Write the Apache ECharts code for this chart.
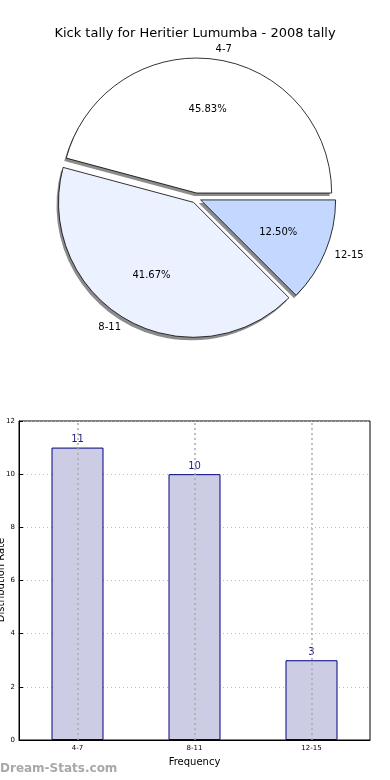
<!DOCTYPE html>
<html><head><meta charset="utf-8">
<style>html,body{margin:0;padding:0;background:#fff}#c{width:390px;height:780px}</style>
<script src="https://cdn.jsdelivr.net/npm/echarts@6/dist/echarts.min.js"></script>
</head><body><div id="c"></div>
<script>
const titleText = 'Kick tally for Heritier Lumumba - 2008 tally';
const categories = ['4-7', '8-11', '12-15'];
const counts = [11, 10, 3];
const pieColors = ['#ffffff', '#ebf1fe', '#c4d8ff'];
const yTicks = [0, 2, 4, 6, 8, 10, 12];
const xAxisName = 'Frequency';
const yAxisName = 'Distribution Rate';
const watermark = 'Dream-Stats.com';

const FONT = 'DejaVu Sans';
const total = counts.reduce((a, b) => a + b, 0);
const CX = 196, CY = 198, R = 135;

const chart = echarts.init(document.getElementById('c'), null, {renderer: 'canvas'});
const pieData = categories.map((c, i) => ({name: c, value: counts[i], selected: true, itemStyle: {color: pieColors[i]}}));
const plainData = categories.map((c, i) => ({name: c, value: counts[i], selected: true}));

const pieCommon = {type: 'pie', startAngle: 0, clockwise: false, selectedMode: 'multiple', selectedOffset: 5,
  silent: true, avoidLabelOverlap: false, emphasis: {disabled: true}, labelLine: {show: false}};

chart.setOption({
  animation: false,
  textStyle: {fontFamily: FONT},
  title: {text: titleText, left: 'center', top: 22, textStyle: {fontFamily: FONT, fontSize: 13, fontWeight: 'normal', color: '#000'}},
  graphic: [
    {type: 'text', left: 0, top: 763, style: {text: watermark, font: 'bold 12px "DejaVu Sans"', fill: '#a8a8a8'}},
    {type: 'text', x: 1, y: 580, rotation: Math.PI / 2,
      style: {text: yAxisName, font: '10px "DejaVu Sans"', fill: '#000', align: 'center', verticalAlign: 'middle'}}
  ],
  grid: {left: 19, right: 20, top: 421, bottom: 40, containLabel: false, outerBoundsMode: 'none',
    show: true, borderColor: '#000', borderWidth: 1, backgroundColor: 'transparent'},
  xAxis: {
    type: 'category', data: categories, name: xAxisName, nameLocation: 'middle', nameGap: 17, nameMoveOverlap: false,
    nameTextStyle: {fontSize: 10, color: '#000'},
    axisLine: {lineStyle: {color: '#000'}}, axisTick: {show: false},
    axisLabel: {fontSize: 7, color: '#000', margin: 5}, splitLine: {show: false}
  },
  yAxis: {
    type: 'value', min: yTicks[0], max: yTicks[yTicks.length - 1], interval: 2,
    axisLine: {show: true, lineStyle: {color: '#000'}}, axisTick: {show: true, inside: true, length: 4, lineStyle: {color: '#000'}},
    axisLabel: {fontSize: 7, color: '#000', margin: 4},
    splitLine: {show: true, lineStyle: {color: '#bbb', type: [1, 3], width: 1}}
  },
  series: [
    Object.assign({}, pieCommon, {
      center: [CX - 2, CY + 3], radius: R, z: 1, data: plainData,
      itemStyle: {color: '#8c8c8c', borderWidth: 0}, label: {show: false}
    }),
    Object.assign({}, pieCommon, {
      center: [CX, CY], radius: R, z: 2, data: pieData,
      itemStyle: {borderColor: '#000', borderWidth: 0.8},
      label: {show: true, position: 'outside', formatter: '{b}', fontSize: 10, color: '#000', distanceToLabelLine: 0},
      labelLine: {show: false, length: 10, length2: 0}
    }),
    Object.assign({}, pieCommon, {
      center: [CX, CY], radius: R * 1.2, z: 5, data: plainData,
      itemStyle: {color: 'rgba(0,0,0,0)', borderWidth: 0},
      label: {show: true, position: 'inside', fontSize: 10, color: '#000',
        formatter: p => (p.value / total * 100).toFixed(2) + '%'}
    }),
    {
      type: 'bar', data: counts, barWidth: 52, z: 2,
      itemStyle: {color: '#cccce4', borderColor: '#000080', borderWidth: 1},
      label: {show: true, position: 'top', distance: 3, fontSize: 10, color: '#1a1a90'},
      markLine: {
        silent: true, symbol: 'none', label: {show: false},
        lineStyle: {color: '#aaa', type: [2, 3], width: 1.5},
        data: categories.map(c => ({xAxis: c}))
      }
    }
  ]
});
</script></body></html>
